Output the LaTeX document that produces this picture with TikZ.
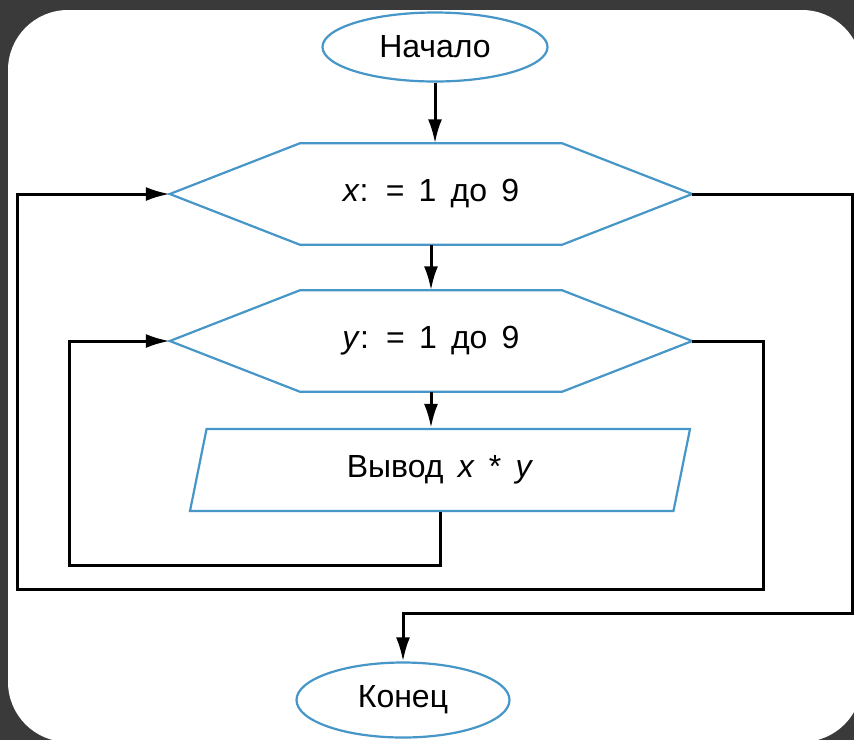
\documentclass[tikz,border=0pt]{standalone}
\usepackage{fontspec}
\setmainfont{Liberation Sans}[WordSpace=1.6]
\usetikzlibrary{shapes.geometric, arrows.meta}
\definecolor{rahmen}{RGB}{58,58,58}
\definecolor{blau}{RGB}{70,150,200}

\begin{document}
\begin{tikzpicture}[x=1pt, y=-1pt,
	block/.style={draw=blau, line width=2.2pt, fill=white, font=\fontsize{32}{38}\selectfont, inner sep=0pt},
	oval/.style={block, ellipse},
	hexbox/.style={font=\fontsize{32}{38}\selectfont, inner sep=0pt, minimum width=522pt, minimum height=101pt},
	iobox/.style={block, trapezium, trapezium left angle=60, trapezium right angle=120, trapezium stretches body, minimum width=500pt, minimum height=82pt},
	pfeil/.style={-{Latex[length=24pt, width=14pt]}, line width=3pt}]
	\useasboundingbox (0,0) rectangle (854,740);
	\fill[rahmen] (0,0) rectangle (854,740);					% Hintergrund
	\fill[white, rounded corners=60pt] (8,10) rectangle (862,742);	% Blatt
	
	\node[oval, minimum width=225pt, minimum height=69pt] (start) at (435,47) {Начало};
	\node[hexbox] (xloop) at (431,194) {\textit{x}: = 1 до 9};
	\node[hexbox] (yloop) at (431,341) {\textit{y}: = 1 до 9};
	\node[iobox] (out) at (440,470) {Вывод \textit{x} * \textit{y}};
	\node[oval, minimum width=213pt, minimum height=75pt] (ende) at (403,700) {Конец};
	
	% Sechsecke der Schleifen
	\foreach \h in {xloop, yloop}
		\draw[blau, line width=2.2pt] (\h.west) -- ([xshift=130pt]\h.north west) -- ([xshift=-130pt]\h.north east) -- (\h.east) -- ([xshift=-130pt]\h.south east) -- ([xshift=130pt]\h.south west) -- cycle;
	
	\coordinate (innen) at (69,565);			% innere Schleife
	\coordinate (aussen1) at (763,589);			% aeussere Schleife
	\coordinate (aussen2) at (17,589);
	\coordinate (ausgang) at (852,613);			% Ausgang
	
	\draw[pfeil] (start.south) -- (start.south |- xloop.north);
	\draw[pfeil] (xloop.south) -- (yloop.north);
	\draw[pfeil] (yloop.south) -- (yloop.south |- out.north);
	\draw[pfeil] (out.south) |- (innen) |- (yloop.west);
	\draw[pfeil] (yloop.east) -| (aussen1) -- (aussen2) |- (xloop.west);
	\draw[pfeil] (xloop.east) -| (ausgang) -| (ende.north);

\end{tikzpicture}
\end{document}
